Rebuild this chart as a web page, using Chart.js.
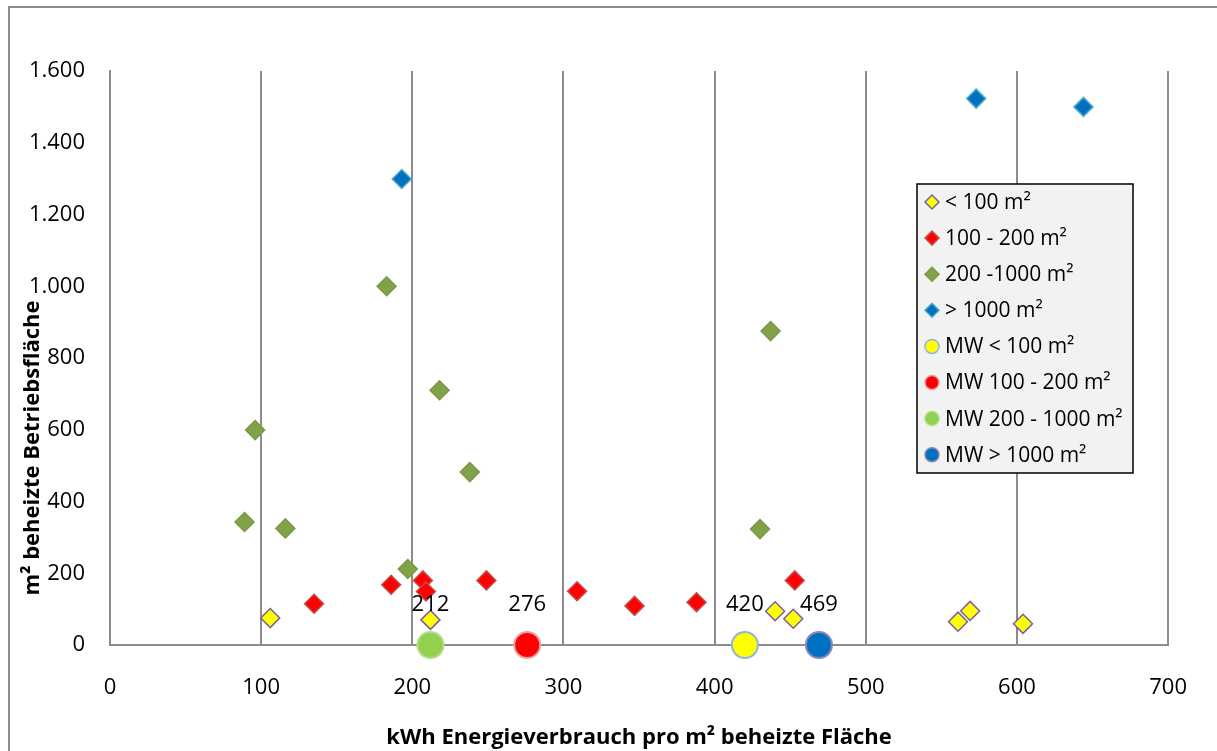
<!DOCTYPE html>
<html>
<head>
<meta charset="utf-8">
<style>
  html, body { margin: 0; padding: 0; background: #fff; overflow: hidden; }
  #wrap { position: relative; width: 1217px; height: 751px; }
  #frame { position: absolute; left: 8px; top: 6px; width: 1400px; height: 900px;
           border-left: 2px solid #8c8c8c; border-top: 2px solid #8c8c8c; }
  #chart { position: absolute; left: 0; top: 0; }
</style>
</head>
<body>
<div id="wrap">
  <div id="frame"></div>
  <canvas id="chart" width="1217" height="751"></canvas>
</div>

<script src="https://cdn.jsdelivr.net/npm/chart.js"></script>
<script>
  // Betriebe nach beheizter Fläche: kWh/m² (x) gegen m² (y)
  const unter100X = [106, 212, 440, 452, 561, 569, 604];
  const unter100Y = [75, 70, 94, 73, 65, 95, 59];

  const von100bis200X = [135, 186, 207, 209, 249, 309, 347, 388, 453];
  const von100bis200Y = [115, 168, 180, 149, 180, 150, 109, 119, 180];

  const von200bis1000X = [89, 96, 116, 183, 197, 218, 238, 430, 437];
  const von200bis1000Y = [343, 599, 325, 1000, 212, 710, 482, 323, 875];

  const ueber1000X = [193, 573, 644];
  const ueber1000Y = [1299, 1523, 1500];

  // Mittelwerte je Größenklasse (auf der x-Achse)
  const mittelwerte = [420, 276, 212, 469];

  const xTicks = ["0", "100", "200", "300", "400", "500", "600", "700"];
  const yTicks = ["0", "200", "400", "600", "800", "1.000", "1.200", "1.400", "1.600"];

  const FONT = "'Open Sans', 'Liberation Sans', sans-serif";

  function pts(xs, ys) {
    return xs.map((x, i) => ({ x: x, y: ys[i] }));
  }

  function diamond(label, xs, ys, fill, border) {
    return {
      label: label,
      data: pts(xs, ys),
      pointStyle: "rectRot",
      pointRadius: 9.5,
      pointBorderWidth: 1.5,
      backgroundColor: fill,
      borderColor: border,
      clip: false,
    };
  }

  function mean(label, value, fill, border) {
    return {
      label: label,
      data: [{ x: value, y: 0 }],
      pointStyle: "circle",
      pointRadius: 13,
      pointBorderWidth: 2,
      backgroundColor: fill,
      borderColor: border,
      clip: false,
      isMean: true,
    };
  }

  const datasets = [
    diamond("< 100 m²", unter100X, unter100Y, "#ffff00", "#7a5ea6"),
    diamond("100 - 200 m²", von100bis200X, von100bis200Y, "#ff0000", "#c0504d"),
    diamond("200 -1000 m²", von200bis1000X, von200bis1000Y, "#82a24a", "#7b9a44"),
    diamond("> 1000 m²", ueber1000X, ueber1000Y, "#0070c0", "#4bacc6"),
    mean("MW < 100 m²", mittelwerte[0], "#ffff00", "#8eb4e3"),
    mean("MW 100 - 200 m²", mittelwerte[1], "#ff0000", "#e6a3a3"),
    mean("MW 200 - 1000 m²", mittelwerte[2], "#92d050", "#b3dd88"),
    mean("MW > 1000 m²", mittelwerte[3], "#0070c0", "#8f86b8"),
  ];

  // Beschriftung der Mittelwerte, Achsentitel und Legende
  const extras = {
    id: "extras",
    afterDatasetsDraw(chart) {
      const ctx = chart.ctx;
      ctx.save();
      ctx.fillStyle = "#000";
      ctx.font = "22px " + FONT;
      ctx.textAlign = "center";
      ctx.textBaseline = "middle";
      chart.data.datasets.forEach((ds, i) => {
        if (!ds.isMean) return;
        const el = chart.getDatasetMeta(i).data[0];
        ctx.fillText(String(ds.data[0].x), el.x, el.y - 40);
      });
      ctx.restore();
    },
    afterDraw(chart) {
      const ctx = chart.ctx;
      const area = chart.chartArea;
      ctx.save();
      ctx.fillStyle = "#000";
      ctx.font = "bold 22px " + FONT;
      ctx.textAlign = "center";
      ctx.textBaseline = "middle";
      ctx.fillText("kWh Energieverbrauch pro m² beheizte Fläche", (area.left + area.right) / 2, 738);

      ctx.translate(33, 448);
      ctx.rotate(-Math.PI / 2);
      ctx.fillText("m² beheizte Betriebsfläche", 0, 0);
      ctx.restore();

      // Legende
      const box = { left: 917, top: 184, width: 216, height: 289 };
      ctx.save();
      ctx.fillStyle = "#f2f2f2";
      ctx.fillRect(box.left, box.top, box.width, box.height);
      ctx.strokeStyle = "#000";
      ctx.lineWidth = 1.5;
      ctx.strokeRect(box.left, box.top, box.width, box.height);
      ctx.font = "21px " + FONT;
      ctx.textAlign = "left";
      ctx.textBaseline = "middle";
      chart.data.datasets.forEach((ds, i) => {
        const y = box.top + 18 + i * 36.1;
        const x = box.left + 15;
        ctx.fillStyle = ds.backgroundColor;
        ctx.strokeStyle = ds.borderColor;
        ctx.lineWidth = 1.5;
        Chart.helpers.drawPoint(ctx, {
          pointStyle: ds.pointStyle,
          radius: 7,
          rotation: 0,
          borderWidth: ctx.lineWidth,
        }, x, y);
        ctx.fillStyle = "#000";
        ctx.fillText(ds.label, x + 13, y + 1);
      });
      ctx.restore();
    },
  };

  const ctx = document.getElementById("chart").getContext("2d");
  const chart = new Chart(ctx, {
    type: "scatter",
    data: { datasets: datasets },
    options: {
      responsive: false,
      animation: false,
      layout: { padding: { top: 71, right: 47, left: 0, bottom: 0 } },
      plugins: {
        legend: { display: false },
        tooltip: { enabled: false },
      },
      scales: {
        x: {
          type: "linear",
          min: 0,
          max: 700,
          afterFit: (scale) => { scale.height = 106; },
          grid: { color: "#8c8c8c", lineWidth: 2, drawTicks: false },
          border: { color: "#8c8c8c", width: 2 },
          ticks: {
            stepSize: 100,
            padding: 30,
            color: "#000",
            font: { family: FONT, size: 22 },
            callback: (v, i) => xTicks[i],
          },
        },
        y: {
          type: "linear",
          min: 0,
          max: 1600,
          afterFit: (scale) => { scale.width = 110; },
          grid: { display: false, drawTicks: false },
          border: { color: "#8c8c8c", width: 2 },
          ticks: {
            stepSize: 200,
            padding: 25,
            color: "#000",
            font: { family: FONT, size: 22 },
            callback: (v, i) => yTicks[i],
          },
        },
      },
    },
    plugins: [extras],
  });
</script>
</body>
</html>
